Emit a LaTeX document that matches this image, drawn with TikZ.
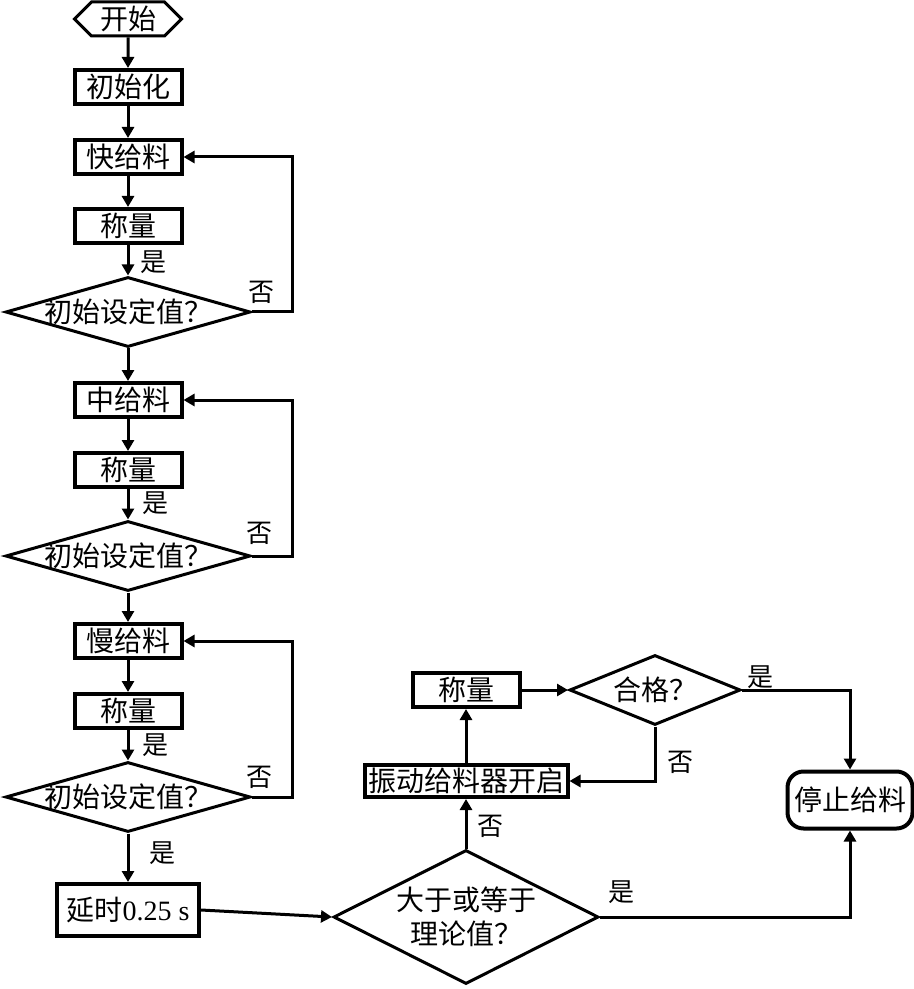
\documentclass[tikz,border=0pt]{standalone}
\usepackage{fontspec}
\setmainfont{Liberation Serif}
\newfontfamily\cjk{Noto Sans CJK SC}
\usetikzlibrary{shapes.geometric,shapes.symbols,arrows.meta}

\begin{document}
\begin{tikzpicture}
  [x=0.5pt,y=-0.5pt,line width=1.5pt,
   every node/.style={font=\cjk\fontsize{14}{17}\selectfont,inner sep=0pt},
   arr/.style={-{Triangle[length=5.5pt,width=6pt]}},
   box/.style={draw,line width=2pt,minimum width=53.5pt,minimum height=17pt},
   start/.style={draw,signal,signal to=west and east,minimum width=53.5pt,minimum height=17pt},
   decide/.style={draw,diamond,minimum width=122.5pt,minimum height=35pt},
   yn/.style={font=\cjk\fontsize{13}{15}\selectfont}]
  \useasboundingbox (0,0) rectangle (914,989);

  \node[start] (begin) at (128,19) {开始};
  \node[box] (init) at (128,87) {初始化};
  \node[box] (fast) at (128,157) {快给料};
  \node[box] (w1) at (128,226) {称量};
  \node[decide,label=center:初始设定值？] (d1) at (128,312) {};
  \node[box] (mid) at (128,400) {中给料};
  \node[box] (w2) at (128,470) {称量};
  \node[decide,label=center:初始设定值？] (d2) at (128,556) {};
  \node[box] (slow) at (128,641) {慢给料};
  \node[box] (w3) at (128,711) {称量};
  \node[decide,label=center:初始设定值？] (d3) at (128,797) {};
  \node[box,minimum width=71pt,minimum height=26pt] (delay) at (128,910) {延时{\rmfamily 0.25 s}};
  \node[decide,minimum width=132.5pt,minimum height=67pt,
        label={[align=center]center:大于或等于\\理论值？}] (cmp) at (466,917) {};
  \node[box,minimum width=101.5pt,minimum height=16pt] (vib) at (466,781) {振动给料器开启};
  \node[box] (w4) at (466,690) {称量};
  \node[decide,minimum width=85.5pt,label=center:合格？] (ok) at (655,690) {};
  \node[draw,rounded corners=8pt,line width=2pt,minimum width=62.5pt,minimum height=28.5pt] (stop) at (850,800) {停止给料};

  \node[yn] (y1) at (153,262) {是};
  \node[yn] (n1) at (261,292) {否};
  \node[yn] (y2) at (155,503) {是};
  \node[yn] (n2) at (259,533) {否};
  \node[yn] (y3) at (155,745) {是};
  \node[yn] (n3) at (259,777) {否};
  \node[yn] (y4) at (162,853) {是};
  \node[yn] (n4) at (490,826) {否};
  \node[yn] (n5) at (680,762) {否};
  \node[yn] (y5) at (760,677) {是};
  \node[yn] (y6) at (621,892) {是};

  \foreach \from/\to in {begin/init,init/fast,fast/w1,w1/d1,d1/mid,mid/w2,w2/d2,d2/slow,slow/w3,w3/d3,d3/delay,cmp/vib,vib/w4,w4/ok}
    \draw[arr] (\from) -- (\to);
  \foreach \from/\to in {d1/fast,d2/mid,d3/slow}
    \draw[arr] (\from.east) -- ++(40,0) |- (\to.east);
  \draw[arr] (delay.east) -- (cmp.west);
  \draw[arr] (ok.south) |- (vib.east);
  \draw[arr] (ok.east) -| (stop.north);
  \draw[arr] (cmp.east) -| (stop.south);
\end{tikzpicture}
\end{document}
